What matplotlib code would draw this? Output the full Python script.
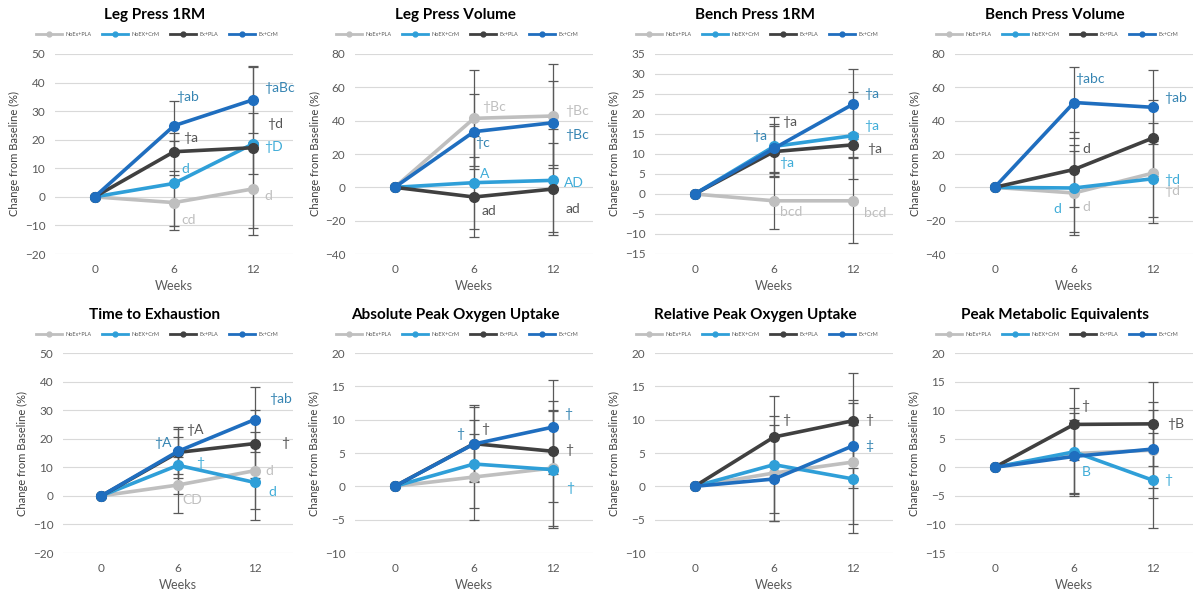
import matplotlib
matplotlib.use("Agg")
import matplotlib.pyplot as plt
from matplotlib.lines import Line2D

plt.rcParams['font.family'] = ['Lato', 'DejaVu Sans']

weeks = ["0", "6", "12"]
groups = ["NoEx+PLA", "NoEX+CrM", "Ex+PLA", "Ex+CrM"]

titles = ["Leg Press 1RM", "Leg Press Volume", "Bench Press 1RM", "Bench Press Volume",
          "Time to Exhaustion", "Absolute Peak Oxygen Uptake",
          "Relative Peak Oxygen Uptake", "Peak Metabolic Equivalents"]

# y axis (min, max, step) for each panel
yaxes = [(-20, 50, 10), (-40, 80, 20), (-15, 35, 5), (-40, 80, 20),
         (-20, 50, 10), (-10, 20, 5), (-10, 20, 5), (-15, 20, 5)]

# mean % change, one list per group (NoEx+PLA, NoEX+CrM, Ex+PLA, Ex+CrM)
leg1rm = [[0, -2.0, 2.8], [0, 4.7, 18.6], [0, 15.8, 17.2], [0, 24.9, 34.0]]
legvol = [[0, 41.4, 42.8], [0, 2.8, 4.2], [0, -5.8, -1.0], [0, 33.4, 38.8]]
bench1rm = [[0, -1.7, -1.7], [0, 11.9, 14.6], [0, 10.6, 12.3], [0, 11.4, 22.5]]
benchvol = [[0, -3.4, 8.6], [0, -0.4, 5.2], [0, 10.7, 29.7], [0, 50.9, 48.0]]
tte = [[0, 3.8, 8.8], [0, 10.7, 4.7], [0, 15.2, 18.3], [0, 15.6, 26.7]]
absvo2 = [[0, 1.4, 2.75], [0, 3.35, 2.5], [0, 6.4, 5.25], [0, 6.35, 8.9]]
relvo2 = [[0, 2.0, 3.65], [0, 3.25, 1.1], [0, 7.4, 9.85], [0, 1.1, 6.1]]
mets = [[0, 2.4, 3.0], [0, 2.7, -2.3], [0, 7.5, 7.6], [0, 1.9, 3.2]]

# standard deviations
leg1rm_sd = [[0, 9.7, 16.3], [0, 15.0, 10.7], [0, 6.6, 28.2], [0, 8.5, 11.8]]
legvol_sd = [[0, 28.8, 31.2], [0, 27.8, 30.7], [0, 23.8, 27.6], [0, 22.6, 25.2]]
bench1rm_sd = [[0, 7.0, 10.6], [0, 7.4, 10.8], [0, 6.4, 3.0], [0, 6.0, 8.7]]
benchvol_sd = [[0, 25.1, 30.1], [0, 26.1, 22.7], [0, 22.7, 22.8], [0, 21.3, 22.2]]
tte_sd = [[0, 9.8, 13.4], [0, 10.0, 13.3], [0, 8.8, 11.9], [0, 7.8, 11.3]]
absvo2_sd = [[0, 6.5, 8.75], [0, 6.6, 8.75], [0, 5.8, 7.6], [0, 5.5, 7.1]]
relvo2_sd = [[0, 7.2, 9.35], [0, 7.3, 8.1], [0, 6.2, 7.15], [0, 6.3, 6.4]]
mets_sd = [[0, 7.1, 8.4], [0, 7.7, 8.3], [0, 6.3, 7.3], [0, 6.4, 6.8]]

# significance labels: (x category pos, y, text, group)
leg1rm_notes = [(1.03, 35, "†ab", 3), (1.11, 20.6, "†a", 2), (1.09, 9.8, "d", 1),
                (1.09, -8.1, "cd", 0), (2.13, 38.1, "†aBc", 3), (2.18, 25.6, "†d", 2),
                (2.14, 17.6, "†D", 1), (2.14, 0.4, "d", 0)]
legvol_notes = [(1.10, 48, "†Bc", 0), (1.01, 26.7, "†c", 3), (1.08, 8.2, "A", 1),
                (1.09, -14.3, "ad", 2), (2.15, 45.8, "†Bc", 0), (2.15, 31.4, "†Bc", 3),
                (2.14, 2.6, "AD", 1), (2.15, -12.9, "ad", 2)]
bench1rm_notes = [(1.10, 18.1, "†a", 2), (0.72, 14.4, "†a", 3), (1.07, 7.7, "†a", 1),
                  (1.07, -4.4, "bcd", 0), (2.14, 25, "†a", 3), (2.14, 17.1, "†a", 1),
                  (2.18, 11.2, "†a", 2), (2.13, -4.8, "bcd", 0)]
benchvol_notes = [(1.01, 64.9, "†abc", 3), (1.11, 23.3, "d", 2), (0.74, -12.9, "d", 1),
                  (1.11, -11.9, "d", 0), (2.13, 53.5, "†ab", 3), (2.14, -2.2, "†d", 0),
                  (2.14, 4.6, "†d", 1)]
tte_notes = [(0.69, 18.5, "†A", 3), (1.10, 23, "†A", 2), (1.24, 11.5, "†", 1),
             (1.06, -1.6, "CD", 0), (2.19, 33.9, "†ab", 3), (2.35, 18.5, "†", 2),
             (2.14, 8.8, "d", 0), (2.18, 1.2, "d", 1)]
absvo2_notes = [(0.77, 7.9, "†", 3), (1.09, 8.6, "†", 2), (2.14, 10.85, "†", 3),
                (2.15, 5.4, "†", 2), (2.16, -0.25, "†", 1)]
relvo2_notes = [(1.10, 10, "†", 2), (2.15, 9.9, "†", 2), (2.15, 6.1, "‡", 3)]
mets_notes = [(1.09, 10.7, "†", 2), (1.10, -0.8, "B", 1), (2.18, 7.5, "†B", 2),
              (2.14, -2.2, "†", 1)]

panels = [(leg1rm, leg1rm_sd, leg1rm_notes), (legvol, legvol_sd, legvol_notes),
          (bench1rm, bench1rm_sd, bench1rm_notes), (benchvol, benchvol_sd, benchvol_notes),
          (tte, tte_sd, tte_notes), (absvo2, absvo2_sd, absvo2_notes),
          (relvo2, relvo2_sd, relvo2_notes), (mets, mets_sd, mets_notes)]

line_colors = ['#BFBFBF', '#2F9FD8', '#404040', '#1F6EBF']
note_colors = ['#BFBFBF', '#3FACD8', '#555555', '#3584B2']
txt_gray = '#595959'

W, H = 1200, 600
fig = plt.figure(figsize=(12, 6), dpi=100)

x = [0, 1, 2]
for i, (vals, sds, notes) in enumerate(panels):
    col = (i % 4) * 300
    top = 54 if i < 4 else 353
    left = col + (63 if i == 4 else 55)
    right = col + 293
    ax = fig.add_axes([left / W, 1 - (top + 200) / H, (right - left) / W, 200 / H])

    ymin, ymax, step = yaxes[i]
    for g in range(4):
        ax.errorbar(x[1:], vals[g][1:], yerr=sds[g][1:], fmt='none', ecolor=txt_gray,
                    elinewidth=0.9, capsize=3.5, capthick=0.9, zorder=1)
    for g in range(4):
        ax.plot(x, vals[g], '-o', color=line_colors[g], lw=2.6, ms=7, zorder=2 + g)
    for nx, ny, t, g in notes:
        ax.text(nx, ny, t, color=note_colors[g], fontsize=10, ha='left', va='center',
                zorder=10)

    ax.set_xlim(-0.5, 2.5)
    ax.set_ylim(ymin, ymax)
    ax.set_yticks(range(ymin, ymax + 1, step))
    ax.set_xticks(x)
    ax.set_xticklabels(weeks)
    ax.tick_params(length=0, labelsize=8.5, labelcolor=txt_gray, pad=7)
    ax.grid(axis='y', color='#D9D9D9', lw=0.8)
    ax.set_axisbelow(True)
    for s in ax.spines.values():
        s.set_visible(False)
    ax.set_xlabel("Weeks", fontsize=9, color=txt_gray, labelpad=4)
    ax.set_ylabel("Change from Baseline (%)", fontsize=8, color='#404040', labelpad=3)

    rowtop = 0 if i < 4 else 300
    fig.text((col + 155) / W, 1 - (rowtop + 15) / H, titles[i], fontsize=11,
             fontweight='bold', ha='center', va='center', color='#000000')
    handles = [Line2D([], [], color=line_colors[g], lw=2, marker='o', ms=3.5)
               for g in range(4)]
    fig.legend(handles, groups, loc='center', ncol=4, frameon=False,
               bbox_to_anchor=((col + 157) / W, 1 - (rowtop + 34) / H),
               fontsize=4, handlelength=4.7, handletextpad=0.5, columnspacing=2.0,
               labelcolor=txt_gray)

fig.savefig("out.png", dpi=100)
